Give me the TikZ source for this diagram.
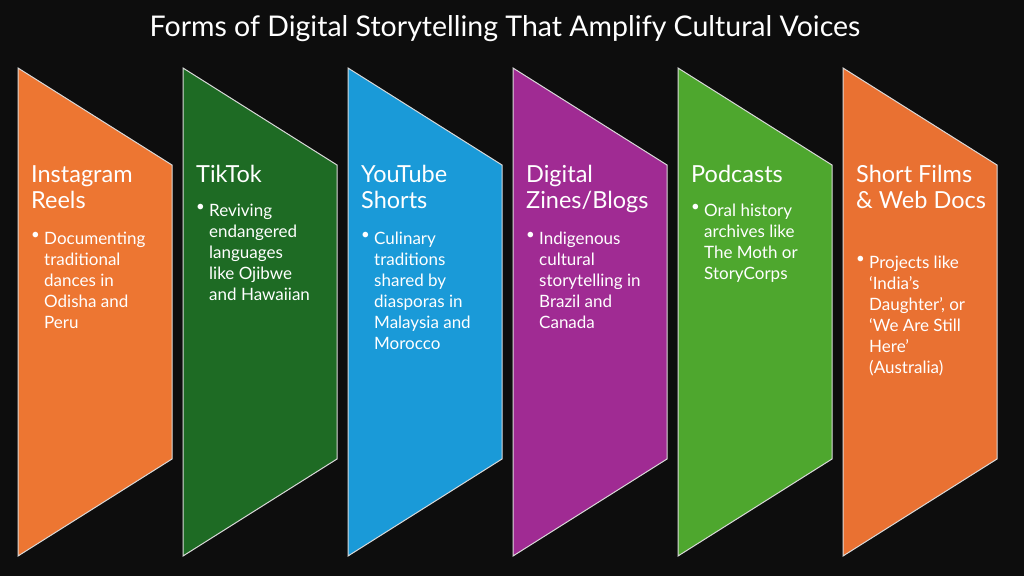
\documentclass[tikz,border=0pt]{standalone}
\usepackage{fontspec}
\setmainfont{Lato}
\usetikzlibrary{positioning}
\definecolor{bgblack}{HTML}{0D0D0D}
\definecolor{cOrange}{HTML}{ED7632}
\definecolor{cGreen}{HTML}{1E6B24}
\definecolor{cBlue}{HTML}{1A9AD8}
\definecolor{cPurple}{HTML}{A02B93}
\definecolor{cLime}{HTML}{4EA72E}
\definecolor{cOrangeB}{HTML}{E97132}

\begin{document}
\begin{tikzpicture}[x=1pt,y=-1pt,
  panel/.style={draw=white!85!black,line width=1pt},
  head/.style={anchor=north west,text=white,align=left,inner sep=0pt,font=\fontsize{23.5}{26}\selectfont},
  dot/.style={anchor=north west,text=white,inner sep=0pt,font=\fontsize{15}{21}\selectfont},
  body/.style={anchor=north west,text=white,align=left,inner sep=0pt,font=\fontsize{17}{21}\selectfont}]
 \fill[bgblack](0,0) rectangle (1024,576);
 \node[text=white,font=\fontsize{28.5}{32}\selectfont] (title) at (505,29) {Forms of Digital Storytelling That Amplify Cultural Voices};
 \foreach \i/\col/\hd/\by/\txt in {
   0/cOrange/{Instagram\\Reels}/232/{Documenting\\traditional\\dances in\\Odisha and\\Peru},
   1/cGreen/{TikTok}/204/{Reviving\\endangered\\languages\\like Ojibwe\\and Hawaiian},
   2/cBlue/{YouTube\\Shorts}/232/{Culinary\\traditions\\shared by\\diasporas in\\Malaysia and\\Morocco},
   3/cPurple/{Digital\\Zines/Blogs}/232/{Indigenous\\cultural\\storytelling in\\Brazil and\\Canada},
   4/cLime/{Podcasts}/204/{Oral history\\archives like\\The Moth or\\StoryCorps},
   5/cOrangeB/{Short Films\\\& Web Docs}/256/{Projects like\\`India's\\Daughter', or\\`We Are Still\\Here'\\(Australia)}} {
  \pgfmathsetmacro{\xl}{18+165*\i}
  \draw[panel,fill=\col](\xl,68)--(\xl+154,165)--(\xl+154,459)--(\xl,556)--cycle;
  \node[head] (hd\i) at (\xl+13,165) {\hd};
  \node[dot] (dt\i) at (\xl+13,\by) {\textbullet};
  \node[body] (bl\i) at (\xl+26,\by) {\txt};
 }
\end{tikzpicture}
\end{document}
